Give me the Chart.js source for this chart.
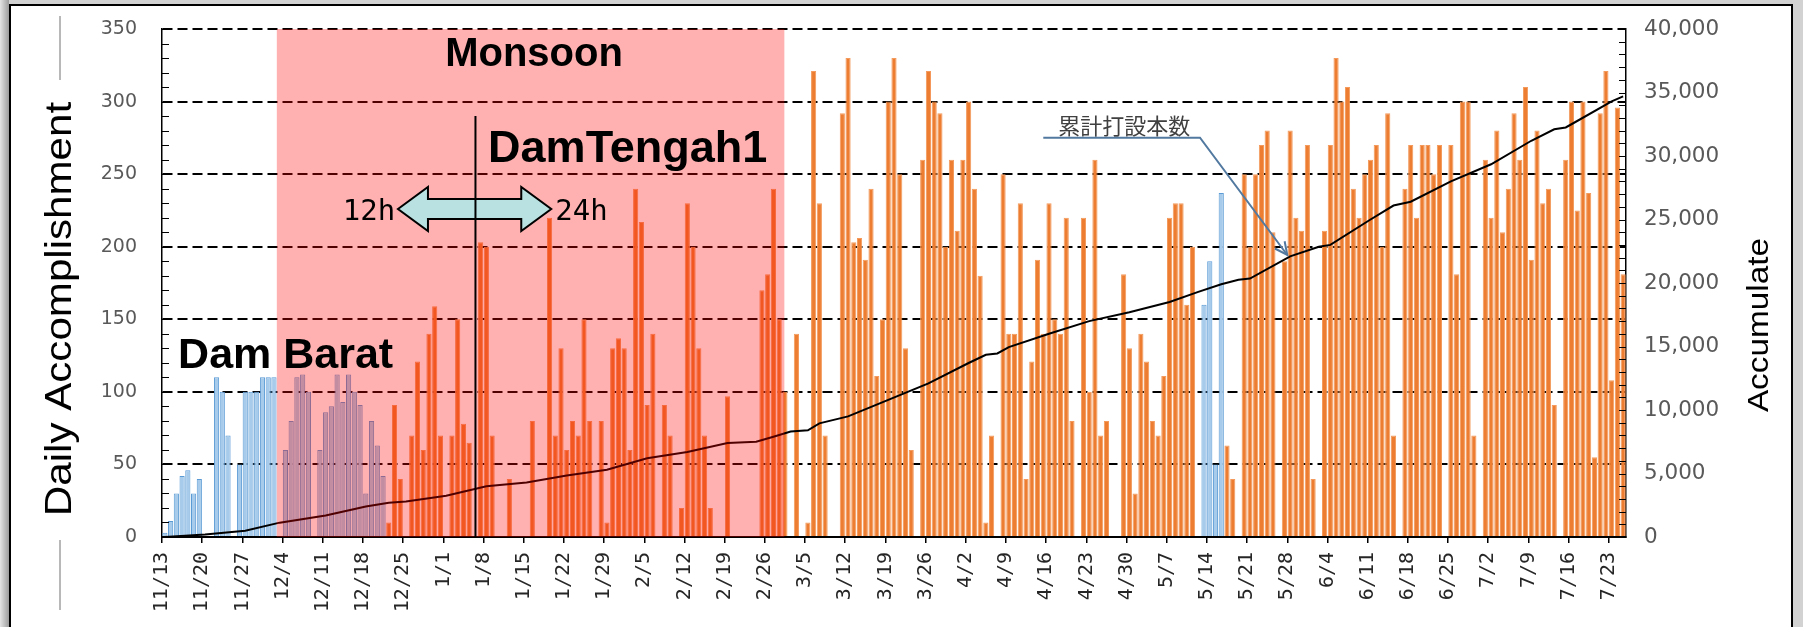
<!DOCTYPE html>
<html><head><meta charset="utf-8">
<script src="https://cdn.jsdelivr.net/npm/chart.js@4.4.1/dist/chart.umd.min.js"></script>
<style>
html,body{margin:0;padding:0;}
body{width:1803px;height:627px;overflow:hidden;position:relative;
 background:linear-gradient(to right,#e4e4e4 0px,#9c9c9c 9px,#d2d2d2 9px);}
#frame{position:absolute;left:9px;top:4px;width:1784px;height:700px;background:#fff;border:2px solid #000;box-sizing:border-box;}
#c{position:absolute;left:0;top:0;}
</style></head><body>
<div id="frame"></div>
<canvas id="c" width="1803" height="627"></canvas>
<script>
// ---- data ----
const weekLabels = ['11/13','11/20','11/27','12/4','12/11','12/18','12/25','1/1','1/8','1/15','1/22','1/29',
 '2/5','2/12','2/19','2/26','3/5','3/12','3/19','3/26','4/2','4/9','4/16','4/23','4/30','5/7','5/14',
 '5/21','5/28','6/4','6/11','6/18','6/25','7/2','7/9','7/16','7/23'];
const dayCount = 255;          // daily categories 11/13 .. 7/25
const daysPerTick = 7;

// daily piles, Dam Barat (blue), one row per week starting 11/13
const damBarat = [
 3,11,30,42,46,30,40,
 0,0,110,100,70,0,50,
 100,100,100,110,110,110,0,
 60,80,110,112,100,0,60,
 86,90,112,93,112,100,91,
 30,80,63,42,0,0,0,
 0,0,0,0,0,0,0,
 0,0,0,0,0,0,0,
 0,0,0,0,0,0,0,
 0,0,0,0,0,0,0,
 0,0,0,0,0,0,0,
 0,0,0,0,0,0,0,
 0,0,0,0,0,0,0,
 0,0,0,0,0,0,0,
 0,0,0,0,0,0,0,
 0,0,0,0,0,0,0,
 0,0,0,0,0,0,0,
 0,0,0,0,0,0,0,
 0,0,0,0,0,0,0,
 0,0,0,0,0,0,0,
 0,0,0,0,0,0,0,
 0,0,0,0,0,0,0,
 0,0,0,0,0,0,0,
 0,0,0,0,0,0,0,
 0,0,0,0,0,0,0,
 0,0,0,0,0,0,160,
 190,50,237,0,0,0,0,
 0,0,0,0,0,0,0,
 0,0,0,0,0,0,0,
 0,0,0,0,0,0,0,
 0,0,0,0,0,0,0,
 0,0,0,0,0,0,0,
 0,0,0,0,0,0,0,
 0,0,0,0,0,0,0,
 0,0,0,0,0,0,0,
 0,0,0,0,0,0,0,
 0,0,0
];
// daily piles, DamTengah1 (orange)
const damTengah1 = [
 0,0,0,0,0,0,0,
 0,0,0,0,0,0,0,
 0,0,0,0,0,0,0,
 0,0,0,0,0,0,0,
 0,0,0,0,0,0,0,
 0,0,0,0,10,91,40,
 0,70,121,60,140,159,70,
 0,70,150,78,65,0,203,
 200,70,0,0,40,0,0,
 0,80,0,0,220,70,130,
 60,80,70,150,80,0,80,
 10,130,137,130,60,240,217,
 91,140,0,91,70,0,20,
 230,200,130,70,20,0,0,
 97,0,0,0,0,0,170,
 181,240,150,100,0,140,0,
 10,321,230,70,0,0,292,
 330,203,206,191,240,111,150,
 300,330,250,130,60,0,260,
 321,300,292,200,260,211,260,
 300,240,180,10,70,0,250,
 140,140,230,40,121,191,140,
 230,150,140,220,80,0,220,
 100,260,70,80,0,0,181,
 130,30,140,121,80,70,111,
 220,230,230,160,200,0,0,
 0,0,0,63,40,0,250,
 200,250,270,280,210,0,190,
 280,220,211,270,40,0,211,
 270,330,300,310,240,220,250,
 260,270,200,292,70,0,240,
 270,220,270,270,250,270,0,
 270,181,300,300,70,0,260,
 220,280,210,240,292,260,310,
 191,280,230,240,91,0,260,
 300,225,300,237,55,292,321,
 108,296,181
];
// accumulated total (day index, value)
const accumDay = [0,7,14,20,28,35,39,42,49,56,63,70,77,84,91,98,103,106,109,112,114,119,126,133,140,143,145,147,
 154,161,168,175,180,184,187,189,196,201,203,210,214,217,224,231,238,242,244,245,252,254];
const accumValue = [0,200,490,1130,1700,2400,2700,2800,3250,4000,4300,4850,5300,6200,6700,7400,7500,7900,8300,8400,
 8950,9500,10800,12100,13700,14350,14450,14950,16000,17000,17700,18500,19300,19900,20250,20350,22100,22850,23000,
 25000,26100,26400,28000,29350,31200,32100,32250,32500,34300,34700];

const leftMax = 350, leftStep = 50, leftMinor = 10;
const rightMax = 40000, rightStep = 5000, rightMinor = 1000;
const monsoon = [20, 108.4];          // shaded period, in day units
const shiftDay = 54.6;                 // 12h -> 24h change

// ---- drawing helpers ----
const annot = {
  id: 'annot',
  afterDatasetsDraw(chart) {
    const {ctx, chartArea: a, scales: {x}} = chart;
    const x0 = x.getPixelForValue(monsoon[0]), x1 = x.getPixelForValue(monsoon[1]);
    ctx.save();
    ctx.fillStyle = 'rgba(255,0,0,0.31)';
    ctx.fillRect(x0, a.top, x1 - x0, a.bottom - a.top);
    ctx.restore();
  },
  afterDraw(chart) {
    const {ctx, chartArea: a, scales: {x, y, y1}} = chart;
    const px = v => x.getPixelForValue(v), py = v => y.getPixelForValue(v);
    ctx.save();
    // minor ticks
    ctx.strokeStyle = '#000'; ctx.lineWidth = 1.2;
    ctx.beginPath();
    for (let v = 0; v <= leftMax; v += leftMinor) {
      const yy = Math.round(py(v)) + 0.5; ctx.moveTo(a.left, yy); ctx.lineTo(a.left + 7, yy);
    }
    for (let v = 0; v <= rightMax; v += rightMinor) {
      const yy = Math.round(y1.getPixelForValue(v)) + 0.5; ctx.moveTo(a.right - 7, yy); ctx.lineTo(a.right, yy);
    }
    ctx.stroke();

    // double arrow 12h <-> 24h
    const cy = py(226), xl = px(41.1), xr = px(67.8), hl = 30, hh = 22, sh = 10;
    ctx.beginPath();
    ctx.moveTo(xl, cy); ctx.lineTo(xl + hl, cy - hh); ctx.lineTo(xl + hl, cy - sh); ctx.lineTo(xr - hl, cy - sh);
    ctx.lineTo(xr - hl, cy - hh); ctx.lineTo(xr, cy); ctx.lineTo(xr - hl, cy + hh); ctx.lineTo(xr - hl, cy + sh);
    ctx.lineTo(xl + hl, cy + sh); ctx.lineTo(xl + hl, cy + hh); ctx.closePath();
    ctx.fillStyle = '#B9E1E1'; ctx.fill();
    ctx.strokeStyle = '#000'; ctx.lineWidth = 2; ctx.lineJoin = 'miter'; ctx.stroke();

    // vertical change line
    ctx.beginPath(); ctx.lineWidth = 2;
    ctx.moveTo(px(shiftDay), py(290)); ctx.lineTo(px(shiftDay), a.bottom); ctx.stroke();

    // texts
    ctx.fillStyle = '#000'; ctx.textBaseline = 'alphabetic';
    ctx.textAlign = 'center';
    ctx.font = 'bold 40px "Liberation Sans"';
    ctx.fillText('Monsoon', px(64.8), py(324.5));
    ctx.textAlign = 'left';
    ctx.font = 'bold 45px "Liberation Sans"';
    ctx.fillText('DamTengah1', px(56.8), py(258.4));
    ctx.font = 'bold 43px "Liberation Sans"';
    ctx.fillText('Dam Barat', px(2.8), py(116.4));
    ctx.font = '29px "DejaVu Sans Mono"';
    ctx.fillText('12h', px(31.5), py(218.4));
    ctx.fillText('24h', px(68.5), py(218.4));

    // callout for the accumulated line
    ctx.fillStyle = '#404040';
    ctx.font = '22px "Noto Sans CJK JP"';
    ctx.fillText('累計打設本数', px(156.1), py(277.7));
    const p1 = [px(153.5), py(275.1)], p2 = [px(180.8), py(275.1)], p3 = [px(196.0), py(194.3)];
    ctx.strokeStyle = '#52799F'; ctx.lineWidth = 2;
    ctx.beginPath(); ctx.moveTo(...p1); ctx.lineTo(...p2); ctx.lineTo(...p3); ctx.stroke();
    const ang = Math.atan2(p3[1] - p2[1], p3[0] - p2[0]);
    ctx.beginPath();
    ctx.moveTo(p3[0] - 14 * Math.cos(ang - 0.45), p3[1] - 14 * Math.sin(ang - 0.45));
    ctx.lineTo(...p3);
    ctx.lineTo(p3[0] - 14 * Math.cos(ang + 0.45), p3[1] - 14 * Math.sin(ang + 0.45));
    ctx.stroke();

    // axis titles
    ctx.fillStyle = '#000'; ctx.textAlign = 'center';
    ctx.font = '36px "Liberation Sans"';
    ctx.save(); ctx.translate(71, 309); ctx.rotate(-Math.PI / 2); ctx.scale(1.17, 1);
    ctx.fillText('Daily Accomplishment', 0, 0); ctx.restore();
    ctx.font = '29px "Liberation Sans"';
    ctx.save(); ctx.translate(1768, 325); ctx.rotate(-Math.PI / 2); ctx.scale(1.15, 1);
    ctx.fillText('Accumulate', 0, 0); ctx.restore();

    // decorative grey rule behind left title
    ctx.strokeStyle = '#b8b8b8'; ctx.lineWidth = 2;
    ctx.beginPath(); ctx.moveTo(60, 16); ctx.lineTo(60, 80); ctx.moveTo(60, 540); ctx.lineTo(60, 610); ctx.stroke();
    ctx.restore();
  }
};

const toBars = arr => arr.map((v, i) => ({x: i + 0.5, y: v > 0 ? v : null}));

new Chart(document.getElementById('c'), {
  data: {
    datasets: [
      {type: 'line', label: '累計打設本数', yAxisID: 'y1', order: 0,
       data: accumDay.map((d, i) => ({x: d + 0.5, y: accumValue[i]})),
       borderColor: '#000', borderWidth: 2, pointRadius: 0, tension: 0},
      {type: 'bar', label: 'Dam Barat', yAxisID: 'y', order: 1, data: toBars(damBarat),
       backgroundColor: '#A7CBEA', borderColor: '#5B9BD5', borderWidth: 1,
       grouped: false, barPercentage: 1, categoryPercentage: 0.9},
      {type: 'bar', label: 'DamTengah1', yAxisID: 'y', order: 2, data: toBars(damTengah1),
       backgroundColor: '#ED7D31', borderColor: '#F39A5C', borderWidth: 1,
       grouped: false, barPercentage: 1, categoryPercentage: 0.9}
    ]
  },
  options: {
    responsive: false, animation: false,
    layout: {padding: {top: 29, left: 0, right: 0, bottom: 0}},
    plugins: {legend: {display: false}, tooltip: {enabled: false}},
    scales: {
      x: {type: 'linear', min: 0, max: dayCount, offset: false, bounds: 'ticks',
        afterBuildTicks: s => { s.ticks = weekLabels.map((_, k) => ({value: k * daysPerTick})); },
        afterFit: s => { s.height = 90; },
        ticks: {autoSkip: false, minRotation: 90, maxRotation: 90, padding: 9, color: '#262626',
          font: {family: '"DejaVu Sans Mono"', size: 20}, callback: (v, i) => weekLabels[i]},
        grid: {offset: false, drawOnChartArea: false, drawTicks: true, tickLength: 6, color: '#000', lineWidth: 1.5},
        border: {display: true, color: '#000', width: 2}},
      y: {position: 'left', min: 0, max: leftMax,
        afterFit: s => { s.width = 162; },
        ticks: {stepSize: leftStep, padding: 0, color: '#595959', font: {family: '"DejaVu Sans"', size: 19}},
        grid: {color: '#000', lineWidth: 2, drawTicks: true, tickLength: 25, tickColor: 'rgba(0,0,0,0)'},
        border: {display: true, color: '#000', width: 1.5, dash: [10, 5]}},
      y1: {position: 'right', min: 0, max: rightMax,
        afterFit: s => { s.width = 177; },
        ticks: {stepSize: rightStep, padding: 0, color: '#595959', font: {family: '"DejaVu Sans"', size: 21.5},
          callback: v => v.toLocaleString('en-US')},
        grid: {drawOnChartArea: false, drawTicks: true, tickLength: 18, tickColor: 'rgba(0,0,0,0)'},
        border: {display: true, color: '#000', width: 1.5}}
    }
  },
  plugins: [annot]
});
</script>
</body></html>
